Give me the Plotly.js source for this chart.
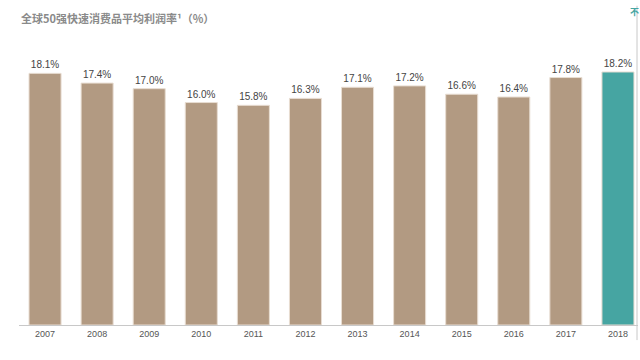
<!DOCTYPE html>
<html><head><meta charset="utf-8">
<script src="https://cdn.plot.ly/plotly-3.0.1.min.js"></script>
<style>html,body{margin:0;padding:0;background:#fff;overflow:hidden}</style>
</head><body>
<div id="chart" style="width:640px;height:360px"></div>
<script>
const years = ['2007','2008','2009','2010','2011','2012','2013','2014','2015','2016','2017','2018'];
const margins = [18.1,17.4,17.0,16.0,15.8,16.3,17.1,17.2,16.6,16.4,17.8,18.2];
const labels = margins.map(v => v.toFixed(1) + '%');
const colors = years.map(y => y === '2018' ? '#46a5a2' : '#b29a82');

const trace = {
  type: 'bar', x: years, y: margins,
  text: labels, textposition: 'outside', cliponaxis: false,
  textfont: {family: 'Liberation Sans, Arial', size: 10, color: '#444'},
  marker: {color: colors, line: {color: '#e8ddd2', width: 1}},
  hoverinfo: 'none'
};
const layout = {
  width: 644, height: 360,
  margin: {l: 19, r: 0, t: 40, b: 35},
  paper_bgcolor: '#fff', plot_bgcolor: '#fff',
  bargap: 0.385,
  showlegend: false,
  xaxis: {type: 'category', range: [-0.5, 11.5], showline: true, linecolor: '#c8c8c8', linewidth: 1,
          ticks: '', tickfont: {family: 'Liberation Sans, Arial', size: 9, color: '#555'}, fixedrange: true},
  yaxis: {range: [0, 20.5], visible: false, showgrid: false, zeroline: false, fixedrange: true},
  annotations: [
    {xref: 'paper', yref: 'paper', x: 0, y: 1, yshift: 22, xanchor: 'left', yanchor: 'middle',
     text: '<b>全球50强快速消费品平均利润率¹（%）</b>', showarrow: false,
     font: {family: 'Noto Sans CJK SC', size: 11, color: '#8a8a8a'}},
    {xref: 'paper', yref: 'paper', x: 0.9936, y: 1, yshift: 29, xanchor: 'right', yanchor: 'middle',
     text: '<b>不</b>', showarrow: false, borderpad: 0,
     font: {family: 'Noto Sans CJK SC', size: 9, color: '#46a5a2'}}
  ],
  shapes: [
    {type: 'rect', xref: 'paper', yref: 'paper', x0: 0.9904, x1: 1.01, y0: -0.2, y1: 1.2,
     fillcolor: '#fff', line: {width: 0}, layer: 'above'},
    {type: 'line', xref: 'paper', yref: 'paper', x0: 0.9888, x1: 0.9888, y0: -0.053, y1: 1.12,
     line: {color: '#c8c8c8', width: 1}, layer: 'above'}
  ]
};
Plotly.newPlot('chart', [trace], layout, {displayModeBar: false, staticPlot: true});
</script>
</body></html>
